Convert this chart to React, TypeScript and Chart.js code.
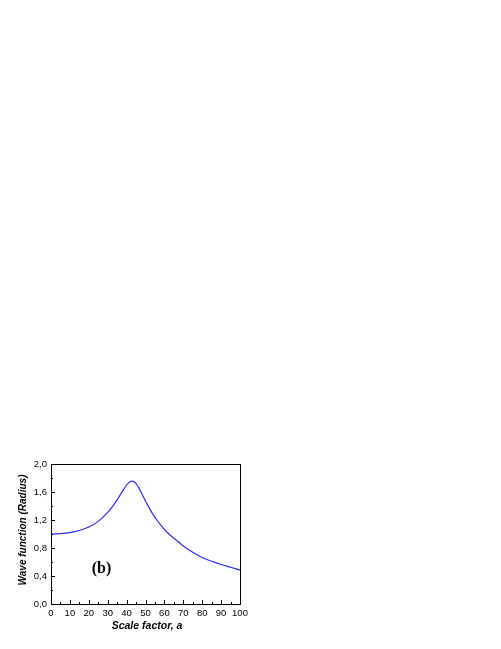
import React, { useEffect, useRef } from "react";
import { Chart, registerables } from "chart.js";
Chart.register(...registerables);

const scaleFactor = [0, 5, 10, 15, 20, 25, 30, 33, 36, 38, 40, 41, 42, 43, 44, 45, 46, 48, 50, 52, 54, 56, 58, 60, 62, 65, 70, 75, 80, 85, 90, 95, 100];
const waveFunction = [1.0, 1.005, 1.02, 1.05, 1.1, 1.18, 1.31, 1.41, 1.53, 1.62, 1.7, 1.73, 1.75, 1.755, 1.745, 1.72, 1.68, 1.58, 1.47, 1.37, 1.28, 1.2, 1.13, 1.065, 1.01, 0.94, 0.83, 0.74, 0.665, 0.61, 0.565, 0.525, 0.485];
const xTickValues = [0, 10, 20, 30, 40, 50, 60, 70, 80, 90, 100];
const yTickValues = [0, 0.4, 0.8, 1.2, 1.6, 2.0];
const xTitle = "Scale factor, a";
const yTitle = "Wave function (Radius)";
const panelLabel = "(b)";

export default function App() {
  const ref = useRef<HTMLCanvasElement | null>(null);
  useEffect(() => {
    if (!ref.current) return;
    const framePlugin = {
      id: "frame",
      afterDraw(chart: any) {
        const { ctx, chartArea: a, scales } = chart;
        const xs = scales.x, ys = scales.y;
        ctx.save();
        ctx.strokeStyle = "#000";
        ctx.lineWidth = 1;
        ctx.strokeRect(Math.round(a.left) + 0.5, Math.round(a.top) + 0.5, Math.round(a.right - a.left), Math.round(a.bottom - a.top));
        ctx.beginPath();
        for (let v = 0; v <= 100; v += 5) {
          const px = Math.round(xs.getPixelForValue(v)) + 0.5;
          const len = v % 10 === 0 ? 4 : 2;
          ctx.moveTo(px, a.bottom);
          ctx.lineTo(px, a.bottom - len);
        }
        for (let i = 0; i <= 10; i++) {
          const v = i * 0.2;
          const py = Math.round(ys.getPixelForValue(v)) + 0.5;
          const len = i % 2 === 0 ? 4 : 2;
          ctx.moveTo(a.left, py);
          ctx.lineTo(a.left + len, py);
        }
        ctx.stroke();
        ctx.fillStyle = "#000";
        ctx.textAlign = "center";
        ctx.textBaseline = "middle";
        ctx.font = "bold 16px 'Liberation Serif', 'Times New Roman', serif";
        ctx.fillText(panelLabel, xs.getPixelForValue(26.7), ys.getPixelForValue(0.5));
        ctx.font = "italic bold 10.5px 'Liberation Sans', Arial, sans-serif";
        ctx.fillText(xTitle, (a.left + a.right) / 2 + 1.5, 626);
        ctx.save();
        ctx.translate(23, (a.top + a.bottom) / 2 - 4);
        ctx.rotate(-Math.PI / 2);
        ctx.font = "italic bold 10px 'Liberation Sans', Arial, sans-serif";
        ctx.fillText(yTitle, 0, 0);
        ctx.restore();
        ctx.restore();
      },
    };
    const chart = new Chart(ref.current, {
      type: "line",
      data: {
        datasets: [
          {
            data: scaleFactor.map((x, i) => ({ x, y: waveFunction[i] })),
            borderColor: "#2a2aff",
            borderWidth: 1.2,
            pointRadius: 0,
            cubicInterpolationMode: "monotone",
            fill: false,
          },
        ],
      },
      options: {
        responsive: false,
        animation: false,
        layout: { padding: { left: 0, top: 464, right: 261, bottom: 0 } },
        plugins: { legend: { display: false }, tooltip: { enabled: false } },
        scales: {
          x: {
            type: "linear",
            min: 0,
            max: 100,
            afterFit(scale: any) { scale.height = 45; },
            afterBuildTicks(scale: any) { scale.ticks = xTickValues.map((v) => ({ value: v })); },
            grid: { display: false, drawTicks: false },
            border: { display: false },
            ticks: { color: "#000", padding: 4, autoSkip: false, maxRotation: 0, minRotation: 0, font: { family: "'Liberation Sans', Arial, sans-serif", size: 9.5 }, callback: (v: any) => String(v) },
          },
          y: {
            type: "linear",
            min: 0,
            max: 2,
            afterFit(scale: any) { scale.width = 51; },
            afterBuildTicks(scale: any) { scale.ticks = yTickValues.map((v) => ({ value: v })); },
            grid: { display: false, drawTicks: false },
            border: { display: false },
            ticks: { color: "#000", padding: 4, autoSkip: false, font: { family: "'Liberation Sans', Arial, sans-serif", size: 9.5 }, callback: (v: any) => Number(v).toFixed(1).replace(".", ",") },
          },
        },
      },
      plugins: [framePlugin],
    } as any);
    return () => chart.destroy();
  }, []);
  return (
    <div style={{ position: "absolute", left: 0, top: 0, width: 501, height: 649 }}>
      <canvas ref={ref} width={501} height={649} style={{ width: 501, height: 649, display: "block" }} />
    </div>
  );
}
